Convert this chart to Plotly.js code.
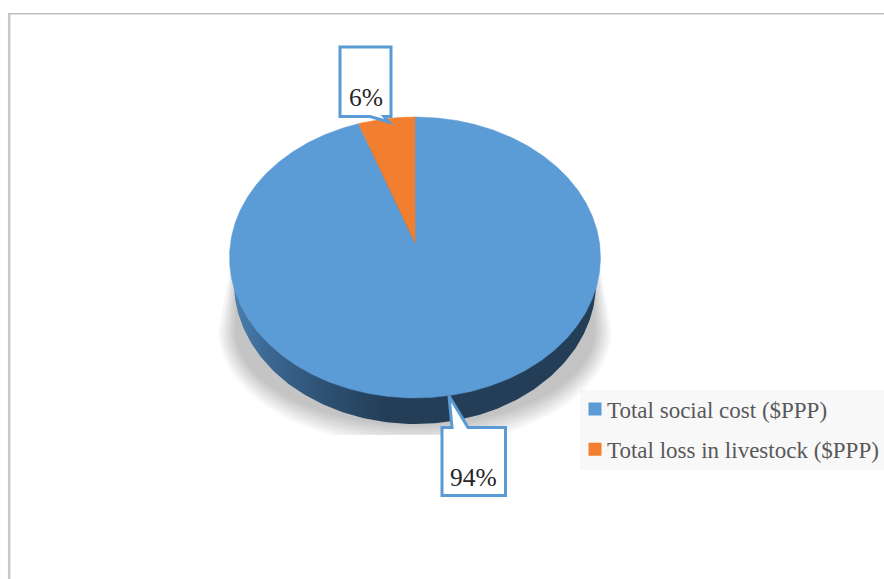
<!DOCTYPE html>
<html>
<head>
<meta charset="utf-8">
<script src="https://cdn.plot.ly/plotly-3.0.1.min.js"></script>
<style>html,body{margin:0;padding:0;background:#fff}#chart{width:884px;height:579px}</style>
</head>
<body>
<div id="chart"></div>
<script>
// ---- data ----
var categories = ['Total social cost ($PPP)', 'Total loss in livestock ($PPP)'];
var shares = [94, 6];
var sliceColors = ['#5b9bd6', '#f27f2f'];
var shareLabels = ['94%', '6%'];

// ---- tilted-disc projection (unit circle to screen position) ----
var cx = 415, apexY = 243, halfW = 184.5, persp = 0.103, tiltA = 139, warp = -2.9;
function project(deg) {
  var r0 = deg * Math.PI / 180;
  var r = (deg + warp * Math.sin(2 * r0)) * Math.PI / 180;
  var u = Math.sin(r), v = Math.cos(r), d = 1 + persp * v;
  return [cx + halfW * u / d, apexY - tiltA * v / d];
}
function arc(fromDeg, toDeg) {
  var xs = [], ys = [], n = Math.max(2, Math.ceil(Math.abs(toDeg - fromDeg) * 2));
  for (var i = 0; i <= n; i++) {
    var p = project(fromDeg + (toDeg - fromDeg) * i / n);
    xs.push(p[0]); ys.push(p[1]);
  }
  return {x: xs, y: ys};
}
function sliceTraces() {
  var total = shares.reduce(function (a, b) { return a + b; }, 0), start = 0, out = [];
  shares.forEach(function (s, i) {
    var end = start + s / total * 360, a = arc(start, end);
    out.push({
      type: 'scatter', mode: 'lines', x: [cx].concat(a.x, [cx]), y: [apexY].concat(a.y, [apexY]),
      fill: 'toself', fillcolor: sliceColors[i], line: {color: sliceColors[i], width: 0.5},
      showlegend: false, hoverinfo: 'skip'
    });
    start = end;
  });
  return out;
}
// legend entries
var legendTraces = categories.map(function (c, i) {
  return {type: 'scatter', mode: 'markers', name: c, x: [null], y: [null], legendgroup: 'g' + i,
    marker: {symbol: 'square', size: 13, color: sliceColors[i]}, hoverinfo: 'skip'};
});
// drop shadow: stacked translucent layers, cut at the bottom
var shadowTraces = [];
var layers = 12;
for (var k = 0; k < layers; k++) {
  var f = k / (layers - 1), rx = 197 - 17 * f, ry = 117 - 22 * f, xs = [], ys = [];
  xs.push(cx - 178); ys.push(232);
  for (var t = -90; t <= 90; t += 2) {
    var r = t * Math.PI / 180;
    xs.push(cx + rx * Math.sin(r)); ys.push(Math.min(435, 330 + ry * Math.cos(r)));
  }
  xs.push(cx + 178); ys.push(232);
  shadowTraces.push({type: 'scatter', mode: 'lines', x: xs, y: ys, fill: 'toself',
    fillcolor: 'rgba(0,0,0,0.018)', line: {width: 0}, showlegend: false, hoverinfo: 'skip'});
}
// side wall of the disc
var wx = [], wy = [];
for (var a = 0; a <= 360; a += 1) {
  var q = a * Math.PI / 180;
  wx.push(cx + 181 * Math.sin(q)); wy.push(283 + 141 * Math.cos(q));
}
var wall = {type: 'scatter', mode: 'lines', x: wx, y: wy, fill: 'toself', line: {width: 0},
  fillgradient: {type: 'horizontal', start: 234, stop: 596,
    colorscale: [[0, '#4a7fae'], [0.1, '#3b6690'], [0.26, '#2d5071'], [0.42, '#233e56'], [1, '#233e56']]},
  showlegend: false, hoverinfo: 'skip'};

var calloutLine = {color: '#5b9bd5', width: 3};
var layout = {
  width: 884, height: 579, margin: {l: 0, r: 0, t: 0, b: 0},
  paper_bgcolor: '#fff', plot_bgcolor: 'rgba(0,0,0,0)',
  xaxis: {range: [0, 884], visible: false, fixedrange: true},
  yaxis: {range: [579, 0], visible: false, fixedrange: true},
  showlegend: true,
  legend: {x: 567 / 884, y: 1 - 387.5 / 579, xanchor: 'left', yanchor: 'top', bgcolor: 'rgba(0,0,0,0)',
    font: {family: 'Liberation Serif, serif', size: 23, color: '#595959'}, tracegroupgap: 7.5, itemclick: false},
  shapes: [
    {type: 'rect', layer: 'below', xref: 'x', yref: 'y', x0: 580, x1: 884, y0: 390, y1: 470, fillcolor: '#f8f8f8', line: {width: 0}},
    {type: 'line', layer: 'below', xref: 'x', yref: 'y', x0: 9.2, x1: 9.2, y0: 13, y1: 579, line: {color: '#c8c8c8', width: 2.5}},
    {type: 'line', layer: 'below', xref: 'x', yref: 'y', x0: 8, x1: 884, y0: 13.7, y1: 13.7, line: {color: '#bdbdbd', width: 1.6}},
    {type: 'path', layer: 'above', xref: 'x', yref: 'y', fillcolor: '#fff', line: calloutLine,
     path: 'M340,47 L391,47 L391,116.5 L384,116.5 L389,122 L370,116.5 L340,116.5 Z'},
    {type: 'path', layer: 'above', xref: 'x', yref: 'y', fillcolor: '#fff', line: calloutLine,
     path: 'M442,427.5 L452,427.5 L449,396 L468,427.5 L505.5,427.5 L505.5,495.5 L442,495.5 Z'}
  ],
  annotations: [
    {xref: 'x', yref: 'y', x: 366, y: 97, text: shareLabels[1], showarrow: false,
     font: {family: 'Liberation Serif, serif', size: 25.5, color: '#262626'}},
    {xref: 'x', yref: 'y', x: 473.5, y: 477, text: shareLabels[0], showarrow: false,
     font: {family: 'Liberation Serif, serif', size: 25.5, color: '#262626'}}
  ]
};
var traces = shadowTraces.concat([wall], sliceTraces(), legendTraces);
Plotly.newPlot('chart', traces, layout, {staticPlot: true, displayModeBar: false}).then(function () {
  document.querySelectorAll('#chart .legend .legendsymbols').forEach(function (g) {
    g.setAttribute('transform', 'translate(8,0)');
  });
});
</script>
</body>
</html>
